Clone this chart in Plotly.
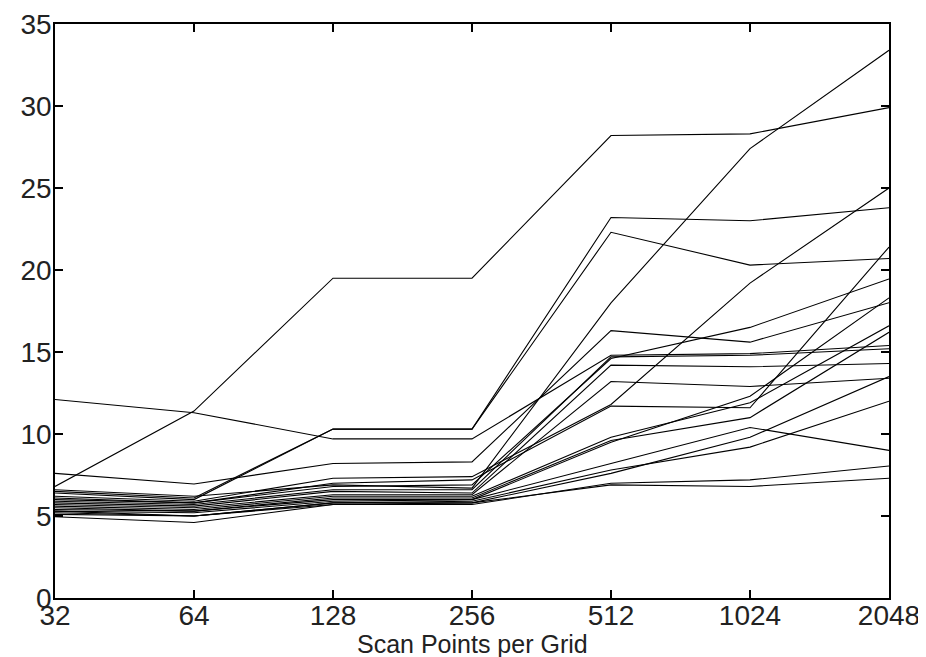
import plotly.graph_objects as go

x_labels = ["32", "64", "128", "256", "512", "1024", "2048"]
y_ticks = [0, 5, 10, 15, 20, 25, 30, 35]
x_title = "Scan Points per Grid"

s01 = [6.8, 11.4, 19.5, 19.5, 28.2, 28.3, 29.9]
s02 = [6.5, 6.1, 10.3, 10.3, 23.2, 23.0, 23.8]
s03 = [6.4, 6.0, 10.3, 10.3, 22.3, 20.3, 20.7]
s04 = [12.1, 11.3, 9.7, 9.7, 14.8, 14.9, 15.4]
s05 = [7.6, 6.95, 8.2, 8.3, 16.3, 15.6, 18.0]
s06 = [6.6, 6.2, 6.9, 6.7, 18.0, 27.4, 33.4]
s07 = [6.2, 5.9, 7.3, 7.4, 11.8, 19.2, 25.0]
s08 = [6.0, 5.8, 7.0, 7.2, 11.7, 11.6, 21.4]
s09 = [6.1, 5.8, 6.8, 6.9, 14.6, 16.5, 19.45]
s10 = [5.9, 5.7, 6.6, 6.6, 14.7, 14.8, 15.2]
s11 = [5.8, 5.6, 6.5, 6.4, 14.2, 14.1, 14.3]
s12 = [5.7, 5.5, 6.3, 6.3, 13.2, 12.9, 13.4]
s13 = [5.6, 5.4, 6.2, 6.2, 9.8, 11.9, 16.6]
s14 = [5.5, 5.3, 6.1, 6.1, 9.6, 11.0, 16.2]
s15 = [5.4, 5.3, 6.0, 6.0, 9.5, 12.3, 18.3]
s16 = [5.3, 5.2, 5.9, 6.0, 8.2, 10.4, 9.0]
s17 = [5.2, 5.0, 5.8, 5.9, 7.8, 9.2, 12.0]
s18 = [5.1, 5.0, 5.8, 5.8, 7.6, 9.8, 13.5]
s19 = [5.3, 5.0, 5.7, 5.7, 7.0, 7.2, 8.05]
s20 = [4.95, 4.6, 5.7, 5.8, 6.9, 6.8, 7.3]

series = [s01, s02, s03, s04, s05, s06, s07, s08, s09, s10,
          s11, s12, s13, s14, s15, s16, s17, s18, s19, s20]

xs = list(range(len(x_labels)))

fig = go.Figure()
for s in series:
    fig.add_trace(go.Scatter(x=xs, y=s, mode="lines",
                             line=dict(color="black", width=1.1),
                             showlegend=False, hoverinfo="skip"))

axis_common = dict(showline=True, linecolor="black", linewidth=1.5,
                   mirror="ticks", ticks="inside", ticklen=8,
                   tickcolor="black", tickwidth=1.5, showgrid=False,
                   zeroline=False, automargin=False,
                   tickfont=dict(family="Liberation Sans", size=28, color="#222"))

fig.update_xaxes(range=[0, 6], tickvals=xs, ticktext=x_labels,
                 ticklabelstandoff=-8, **axis_common)
fig.update_yaxes(range=[0, 35], tickvals=y_ticks, ticklabelstandoff=-4,
                 **axis_common)

fig.add_annotation(text=x_title, xref="paper", yref="paper", x=0.5, y=0,
                   xanchor="center", yanchor="top", yshift=-30,
                   showarrow=False,
                   font=dict(family="Liberation Sans", size=25, color="#222"))

fig.update_layout(width=926, height=657,
                  margin=dict(l=47, r=45, t=16, b=67, autoexpand=False),
                  paper_bgcolor="white", plot_bgcolor="white")

fig.write_html("out.html")
